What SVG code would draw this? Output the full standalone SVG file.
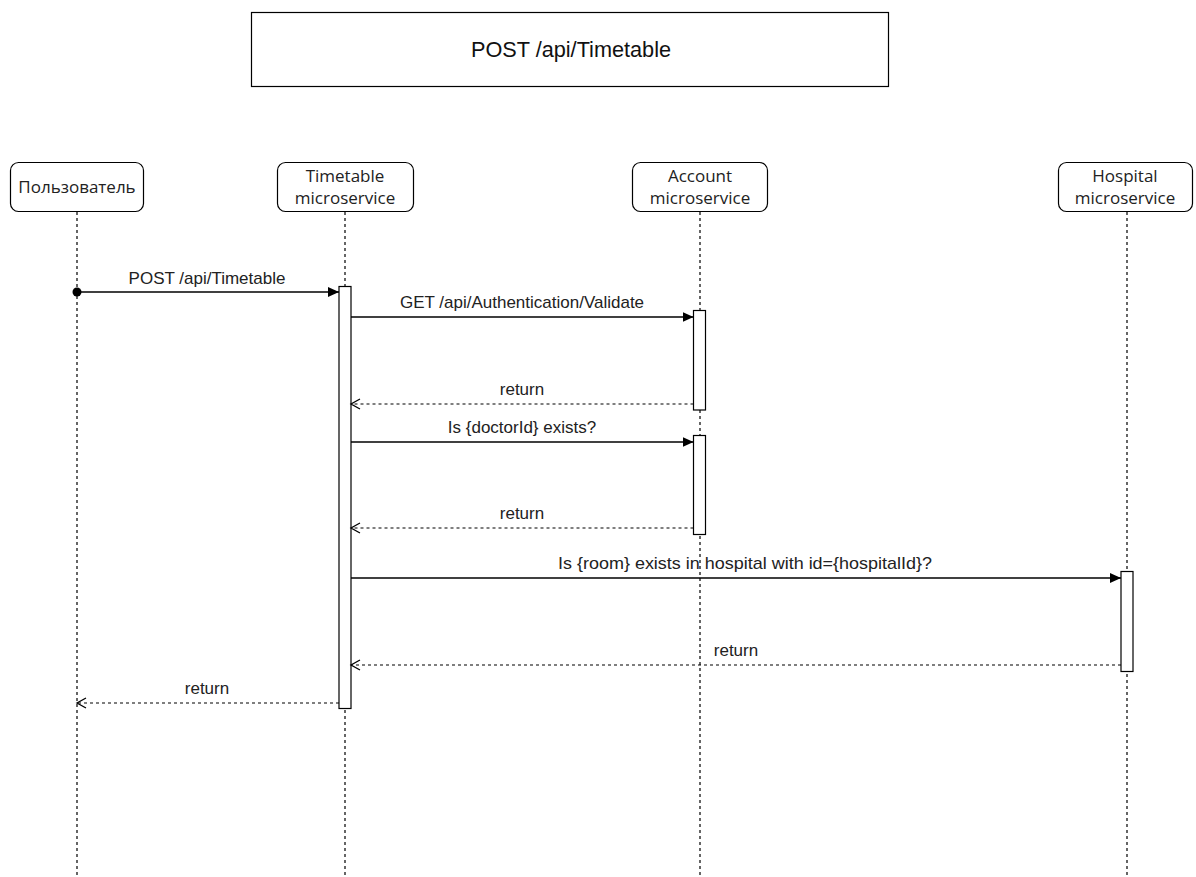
<svg xmlns="http://www.w3.org/2000/svg" width="1196" height="877" viewBox="0 0 1196 877">
<style>
.box{fill:#fff;stroke:#000;stroke-width:1.2}
.pt{font-family:"Open Sans",sans-serif;font-size:17px;fill:#222;text-anchor:middle}
.lbl{font-family:"Liberation Sans",Arial,sans-serif;font-size:17px;fill:#222;text-anchor:middle}
.life{stroke:#000;stroke-width:1.2;stroke-dasharray:3,3;fill:none}
.msg{stroke:#000;stroke-width:1.3;fill:none}
.ret{stroke:#000;stroke-width:1.2;stroke-dasharray:3,3;fill:none}
.act{fill:#fff;stroke:#000;stroke-width:1.2}
</style>
<defs>
<marker id="filled" markerWidth="12" markerHeight="10" refX="11" refY="5" orient="auto" markerUnits="userSpaceOnUse"><path d="M0,0 L11,5 L0,10 Z" fill="#000"/></marker>
<marker id="open" markerWidth="12" markerHeight="12" refX="10" refY="6" orient="auto" markerUnits="userSpaceOnUse"><path d="M1,1 L10,6 L1,11" fill="none" stroke="#000" stroke-width="1.3"/></marker>
</defs>
<rect width="1196" height="877" fill="#fff"/>
<g id="title">
<rect x="251.5" y="12.5" width="637" height="74" fill="#fff" stroke="#000" stroke-width="1.2"/>
<text x="571" y="57" font-family="Liberation Sans,Arial,sans-serif" font-size="21.7" fill="#111" text-anchor="middle">POST /api/Timetable</text>
</g>
<g id="lifelines">
<line class="life" x1="77" y1="212" x2="77" y2="877"/>
<line class="life" x1="345" y1="212" x2="345" y2="877"/>
<line class="life" x1="700" y1="212" x2="700" y2="877"/>
<line class="life" x1="1127" y1="212" x2="1127" y2="877"/>
</g>
<g id="user">
<rect class="box" x="10.5" y="162.5" width="133" height="49" rx="8"/>
<text class="pt" x="77" y="193">Пользователь</text>
</g>
<g id="timetable">
<rect class="box" x="277.5" y="162.5" width="136" height="49" rx="8"/>
<text class="pt" x="345" y="182">Timetable</text>
<text class="pt" x="345" y="204">microservice</text>
</g>
<g id="account">
<rect class="box" x="632.5" y="162.5" width="135" height="49" rx="8"/>
<text class="pt" x="700" y="182">Account</text>
<text class="pt" x="700" y="204">microservice</text>
</g>
<g id="hospital">
<rect class="box" x="1058.5" y="162.5" width="134" height="49" rx="8"/>
<text class="pt" x="1125" y="182">Hospital</text>
<text class="pt" x="1125" y="204">microservice</text>
</g>
<g id="activations">
<rect class="act" x="339" y="286.5" width="12" height="422"/>
<rect class="act" x="693.5" y="310.5" width="12" height="99.5"/>
<rect class="act" x="693.5" y="435.5" width="12" height="99"/>
<rect class="act" x="1121" y="571.5" width="12" height="100"/>
</g>
<g id="connectors">
<circle cx="77" cy="292" r="4.5" fill="#000"/>
<line class="msg" x1="77" y1="292" x2="339" y2="292" marker-end="url(#filled)"/>
<text class="lbl" x="207" y="284">POST /api/Timetable</text>
<line class="msg" x1="351" y1="317" x2="693.5" y2="317" marker-end="url(#filled)"/>
<text class="lbl" x="522" y="308">GET /api/Authentication/Validate</text>
<line class="ret" x1="693.5" y1="404" x2="351" y2="404" marker-end="url(#open)"/>
<text class="lbl" x="522" y="395">return</text>
<line class="msg" x1="351" y1="442" x2="693.5" y2="442" marker-end="url(#filled)"/>
<text class="lbl" x="522" y="433">Is {doctorId} exists?</text>
<line class="ret" x1="693.5" y1="528" x2="351" y2="528" marker-end="url(#open)"/>
<text class="lbl" x="522" y="519">return</text>
<line class="msg" x1="351" y1="578" x2="1121" y2="578" marker-end="url(#filled)"/>
<text class="lbl" x="745" y="569" textLength="374" lengthAdjust="spacingAndGlyphs">Is {room} exists in hospital with id={hospitalId}?</text>
<line class="ret" x1="1121" y1="665" x2="351" y2="665" marker-end="url(#open)"/>
<text class="lbl" x="736" y="656">return</text>
<line class="ret" x1="339" y1="703" x2="77" y2="703" marker-end="url(#open)"/>
<text class="lbl" x="207" y="694">return</text>
</g>
</svg>
